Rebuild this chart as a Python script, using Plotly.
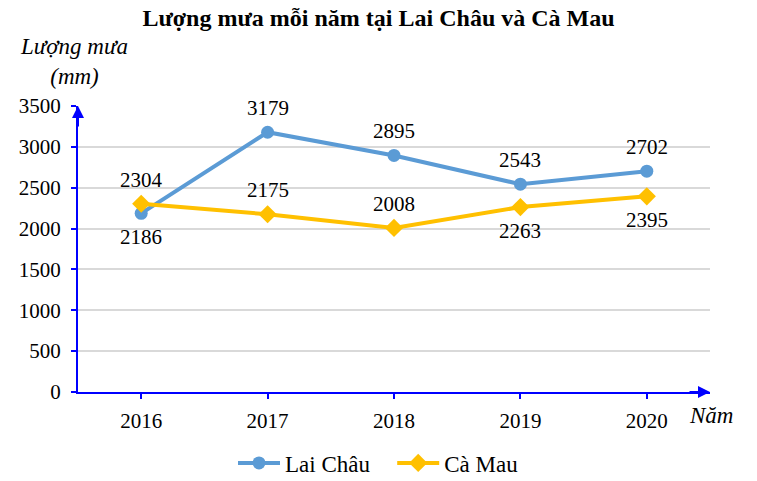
import plotly.graph_objects as go

years = ["2016", "2017", "2018", "2019", "2020"]
lai_chau = [2186, 3179, 2895, 2543, 2702]
ca_mau = [2304, 2175, 2008, 2263, 2395]
lai_pos = [-1, 1, 1, 1, 1]   # label below (-1) / above (1)
ca_pos = [1, 1, 1, -1, -1]
y_ticks = [0, 500, 1000, 1500, 2000, 2500, 3000, 3500]

FONT = "Liberation Serif, Times New Roman, serif"
BLUE = "#5B9BD5"
GOLD = "#FFC000"
AXIS = "#0000FF"

fig = go.Figure()
fig.add_trace(go.Scatter(x=years, y=lai_chau, name="Lai Châu   ", mode="lines+markers",
                         line=dict(color=BLUE, width=4),
                         marker=dict(symbol="circle", size=13, color=BLUE)))
fig.add_trace(go.Scatter(x=years, y=ca_mau, name="Cà Mau", mode="lines+markers",
                         line=dict(color=GOLD, width=4),
                         marker=dict(symbol="diamond", size=14, color=GOLD)))

ann = []
for ys, ps in [(lai_chau, lai_pos), (ca_mau, ca_pos)]:
    for i, (y, p) in enumerate(zip(ys, ps)):
        ann.append(dict(x=i, y=y, xref="x", yref="y", text=str(y), showarrow=False,
                        yshift=24 * p, font=dict(family=FONT, size=21, color="black")))

# axis arrows
ann.append(dict(xref="paper", yref="paper", x=0, y=1, ax=0, ay=22, text="",
                showarrow=True, arrowhead=2, arrowsize=1.2, arrowwidth=2, arrowcolor=AXIS))
ann.append(dict(xref="paper", yref="paper", x=1, y=0, ax=-22, ay=0, text="",
                showarrow=True, arrowhead=2, arrowsize=1.2, arrowwidth=2, arrowcolor=AXIS))
# axis titles
ann.append(dict(xref="paper", yref="paper", x=(74 - 78) / 632, y=(392 - 61) / 286,
                xanchor="center", yanchor="middle",
                text="<i>Lượng mưa</i><br><i>(mm)</i>", showarrow=False, align="center",
                font=dict(family=FONT, size=23, color="black")))
ann.append(dict(xref="paper", yref="paper", x=(711 - 78) / 632, y=(392 - 415) / 286,
                xanchor="center", yanchor="middle",
                text="<i>Năm</i>", showarrow=False,
                font=dict(family=FONT, size=23, color="black")))

fig.update_layout(
    width=757, height=481,
    margin=dict(l=78, r=47, t=106, b=89, autoexpand=False),
    paper_bgcolor="white", plot_bgcolor="white",
    title=dict(text="<b>Lượng mưa mỗi năm tại Lai Châu và Cà Mau</b>", x=0.5, xanchor="center",
               y=1 - 18 / 481, yanchor="middle",
               font=dict(family=FONT, size=24, color="black")),
    font=dict(family=FONT, size=21, color="black"),
    showlegend=True,
    legend=dict(orientation="h", xref="container", x=0.5, xanchor="center",
                y=(392 - 463) / 286, yanchor="middle",
                font=dict(family=FONT, size=23, color="black"), itemwidth=42),
    annotations=ann,
    xaxis=dict(type="category", range=[-0.5, 4.5], showline=True, linecolor=AXIS, linewidth=2,
               ticks="outside", tickcolor=AXIS, tickwidth=2, ticklen=5, showgrid=False,
               tickfont=dict(family=FONT, size=21, color="black"), zeroline=False,
               ticklabelstandoff=4),
    yaxis=dict(range=[0, 3500], tickvals=y_ticks, showline=True, linecolor=AXIS, linewidth=2,
               ticks="outside", tickcolor=AXIS, tickwidth=2, ticklen=5,
               showgrid=True, gridcolor="#D9D9D9", gridwidth=1.5, zeroline=False,
               tickfont=dict(family=FONT, size=21, color="black"), ticklabelstandoff=6),
)

fig.write_html("out.html")
